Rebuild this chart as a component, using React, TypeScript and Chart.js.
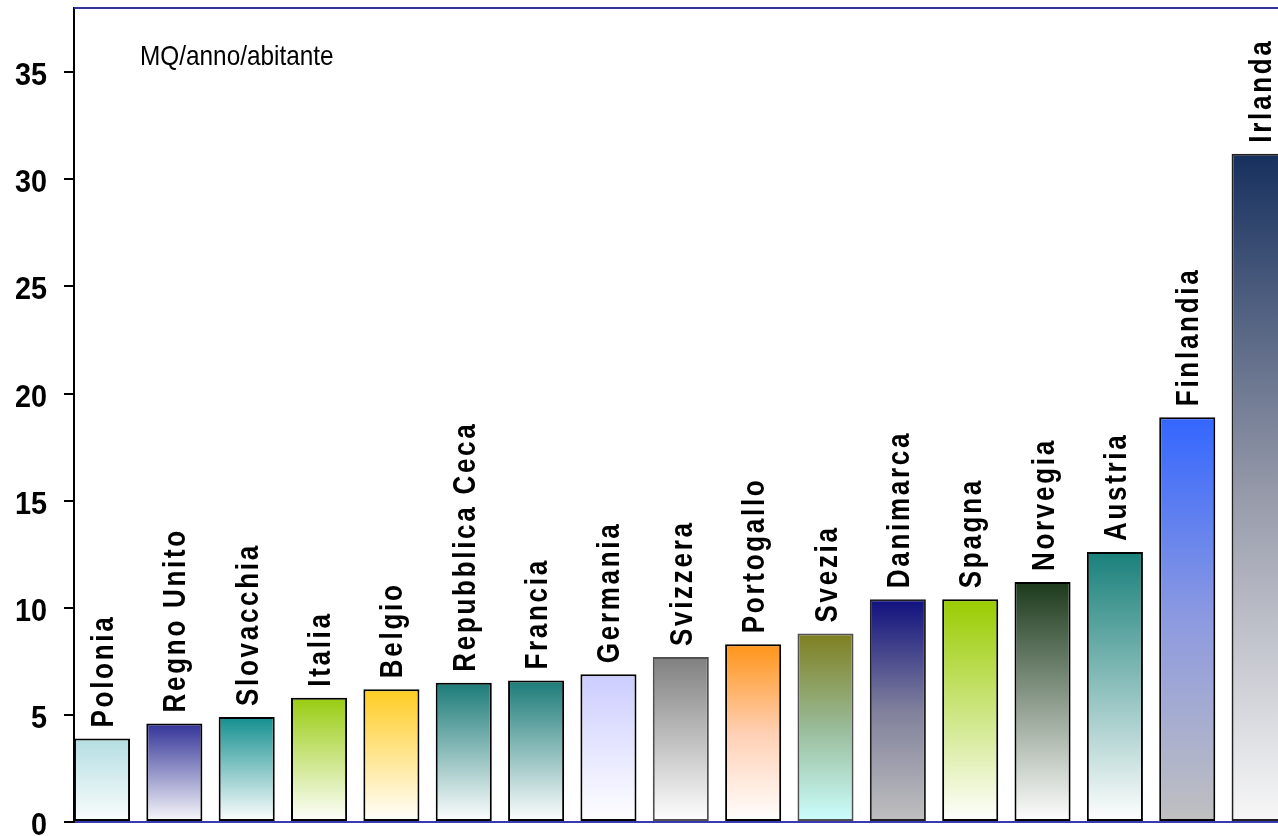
import React, { useEffect, useRef } from "react";
import { Chart, registerables } from "chart.js";

Chart.register(...registerables);

const countries = [
  "Polonia", "Regno Unito", "Slovacchia", "Italia", "Belgio", "Repubblica Ceca",
  "Francia", "Germania", "Svizzera", "Portogallo", "Svezia", "Danimarca",
  "Spagna", "Norvegia", "Austria", "Finlandia", "Irlanda",
];
const values = [3.9, 4.6, 4.9, 5.8, 6.2, 6.5, 6.6, 6.9, 7.7, 8.3, 8.8, 10.4, 10.4, 11.2, 12.6, 18.9, 31.2];
const yTicks = [0, 5, 10, 15, 20, 25, 30, 35];
const unitLabel = "MQ/anno/abitante";

const gradientStops: string[][] = [
  ["#b4dee2", "#fbfdfd"],
  ["#333399", "#fafafc"],
  ["#148f8f", "#ffffff"],
  ["#99cc11", "#ffffff"],
  ["#ffcc22", "#ffffff"],
  ["#1b7b78", "#ffffff"],
  ["#1b7b78", "#ffffff"],
  ["#ccccff", "#ffffff"],
  ["#808080", "#ffffff"],
  ["#ff9418", "#ffd0b4", "#ffffff"],
  ["#7f7f1f", "#99bb99", "#ccffff"],
  ["#10107f", "#80809c", "#c0c0c0"],
  ["#99cc00", "#ffffff"],
  ["#1c3a1c", "#ffffff"],
  ["#1a807a", "#ffffff"],
  ["#3366ff", "#8d9ae0", "#c0c0c0"],
  ["#16305e", "#9498a8", "#f8f8f8"],
];
const borderColors = [
  "#000", "#000", "#000", "#000", "#000", "#000", "#000", "#000", "#505050",
  "#000", "#505050", "#202020", "#000", "#000", "#000", "#000", "#202020",
];

const FONT = '"Liberation Sans", Arial, sans-serif';
const CANVAS_W = 1320;
const CANVAS_H = 836;
const AXIS_W = 74;
const STEP = 72.35;
const X_MIN = -28 / STEP;
const X_MAX = X_MIN + (CANVAS_W - AXIS_W) / STEP;

const decorPlugin = {
  id: "decor",
  beforeDatasetsDraw(chart: any) {
    const { ctx, chartArea, scales } = chart;
    ctx.save();
    ctx.strokeStyle = "#333399";
    ctx.lineWidth = 2;
    ctx.beginPath();
    ctx.moveTo(chartArea.left, chartArea.top);
    ctx.lineTo(chartArea.right, chartArea.top);
    ctx.stroke();
    ctx.fillStyle = "#000";
    ctx.font = `28px ${FONT}`;
    ctx.textAlign = "left";
    ctx.textBaseline = "alphabetic";
    ctx.save();
    ctx.translate(chartArea.left + 66, chartArea.top + 57);
    ctx.scale(0.87, 1);
    ctx.fillText(unitLabel, 0, 0);
    ctx.restore();
    ctx.font = `bold 32px ${FONT}`;
    ctx.textAlign = "right";
    yTicks.forEach((t) => {
      const y = scales.y.getPixelForValue(t);
      ctx.save();
      ctx.translate(chartArea.left - 27, y + 13);
      ctx.scale(0.9, 1);
      ctx.fillText(String(t), 0, 0);
      ctx.restore();
    });
    ctx.restore();
  },
  afterDatasetsDraw(chart: any) {
    const { ctx } = chart;
    const meta = chart.getDatasetMeta(0);
    ctx.save();
    ctx.fillStyle = "#000";
    ctx.font = `bold 31px ${FONT}`;
    (ctx as any).letterSpacing = "3.2px";
    ctx.textAlign = "left";
    ctx.textBaseline = "alphabetic";
    meta.data.forEach((bar: any, i: number) => {
      ctx.save();
      ctx.translate(bar.x + 11, bar.y - 11);
      ctx.rotate(-Math.PI / 2);
      ctx.scale(0.84, 1);
      ctx.fillText(countries[i], 0, 0);
      ctx.restore();
    });
    ctx.restore();
  },
};

export default function App() {
  const canvasRef = useRef<HTMLCanvasElement | null>(null);

  useEffect(() => {
    const canvas = canvasRef.current;
    if (!canvas) return;
    const chart = new Chart(canvas, {
      type: "bar",
      data: {
        datasets: [
          {
            data: values.map((v, i) => ({ x: i, y: v })),
            backgroundColor: (c: any) => {
              const chart = c.chart;
              const i = c.dataIndex;
              const stops = gradientStops[i] || ["#888", "#fff"];
              if (!chart.chartArea || i === undefined) return stops[0];
              const yScale = chart.scales.y;
              const top = yScale.getPixelForValue(values[i]);
              const bottom = yScale.getPixelForValue(0);
              const g = chart.ctx.createLinearGradient(0, top, 0, bottom);
              stops.forEach((s: string, k: number) => g.addColorStop(k / (stops.length - 1), s));
              return g;
            },
            borderColor: borderColors,
            borderWidth: 2,
            borderSkipped: false,
            barPercentage: 0.775,
            categoryPercentage: 1,
          } as any,
        ],
      },
      options: {
        responsive: false,
        animation: false,
        devicePixelRatio: 1,
        layout: { padding: { top: 8, left: 0, right: 0, bottom: 0 } },
        plugins: { legend: { display: false }, tooltip: { enabled: false } },
        scales: {
          x: {
            type: "linear",
            offset: false,
            min: X_MIN,
            max: X_MAX,
            grid: { display: false, drawTicks: false, offset: false },
            border: { display: true, color: "#3a3ab0", width: 2 },
            ticks: { display: false },
            afterFit: (s: any) => {
              s.height = CANVAS_H - 822;
            },
          },
          y: {
            min: 0,
            max: 38,
            afterBuildTicks: (s: any) => {
              s.ticks = yTicks.map((v) => ({ value: v }));
            },
            ticks: { display: false },
            grid: { drawOnChartArea: false, drawTicks: true, tickLength: 10, color: "#000", lineWidth: 2 },
            border: { display: true, color: "#000", width: 2 },
            afterFit: (s: any) => {
              s.width = AXIS_W;
            },
          },
        },
      } as any,
      plugins: [decorPlugin],
    });
    return () => chart.destroy();
  }, []);

  return (
    <div
      style={{
        position: "fixed",
        left: 0,
        top: 0,
        width: 1278,
        height: CANVAS_H,
        overflow: "hidden",
        background: "#fff",
      }}
    >
      <canvas ref={canvasRef} width={CANVAS_W} height={CANVAS_H} style={{ display: "block" }} />
    </div>
  );
}
